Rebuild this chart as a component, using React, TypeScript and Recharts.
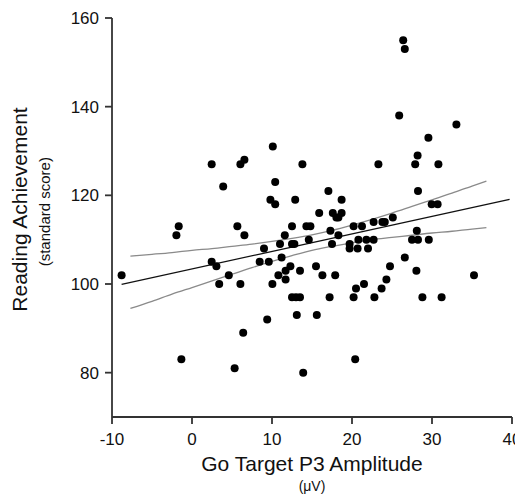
import React from 'react';
import { ComposedChart, Scatter, Line, XAxis, YAxis } from 'recharts';

// Go Target P3 amplitude (µV) for each participant
const amplitude = [
  -8.8, -1.95, -1.66, -1.33, 2.46, 2.46, 3.05, 3.4, 3.9, 4.6,
  5.33, 5.67, 6.05, 6.05, 6.55, 6.55, 6.4, 8.46, 9.0, 9.4,
  9.6, 9.8, 10.05, 10.1, 10.4, 10.4, 10.8, 11.0, 11.2, 11.6,
  11.7, 11.7, 12.3, 12.5, 12.5, 12.5, 12.8, 13.0, 12.9, 13.1,
  13.5, 13.5, 13.8, 13.9, 14.3, 14.6, 14.8, 15.5, 15.6, 15.9,
  16.3, 17.05, 17.2, 17.3, 17.5, 17.6, 17.9, 18.05, 18.3, 18.3,
  18.7, 18.7, 19.7, 19.7, 20.2, 20.2, 20.5, 20.4, 20.7, 20.8,
  21.25, 21.5, 21.8, 22.0, 22.7, 22.7, 22.8, 23.3, 23.8, 23.7,
  24.1, 24.3, 24.75, 25.1, 25.9, 26.4, 26.6, 26.6, 27.5, 27.9,
  28.05, 28.1, 28.2, 28.25, 28.25, 28.8, 29.55, 29.6, 29.96, 30.7,
  30.8, 31.2, 33.05, 35.25,
];

// Reading achievement (standard score) for each participant
const reading = [
  102, 111, 113, 83, 127, 105, 104, 100, 122, 102,
  81, 113, 127, 100, 128, 111, 89, 105, 108, 92,
  105, 119, 100, 131, 118, 123, 102, 109, 106, 111,
  101, 103, 104, 113, 109, 97, 109, 97, 119, 93,
  97, 103, 127, 80, 113, 110, 113, 104, 93, 116,
  102, 121, 97, 112, 109, 116, 102, 115, 115, 111,
  119, 116, 109, 108, 113, 97, 99, 83, 108, 110,
  113, 100, 110, 108, 110, 114, 97, 127, 114, 99,
  114, 101, 104, 115, 138, 155, 153, 106, 110, 127,
  103, 112, 129, 121, 110, 97, 133, 110, 118, 118,
  127, 97, 136, 102,
];

const xTicks = [-10, 0, 10, 20, 30, 40];
const yTicks = [80, 100, 120, 140, 160];

// regression line end points
const fitX = [-8.8, 39.7];
const fitY = [99.9, 119.1];

// confidence band
const bandX = [-7.7, -5, -2.5, 0, 2.5, 5, 7.5, 10, 12.5, 15, 17.5, 20, 22.5, 25, 27.5, 30, 32.5, 35, 36.8];
const bandUpper = [106.3, 106.7, 107.1, 107.6, 108.0, 108.5, 109.0, 109.6, 110.3, 111.1, 112.1, 113.3, 114.6, 116.0, 117.5, 119.0, 120.5, 122.1, 123.2];
const bandLower = [94.5, 96.1, 97.7, 99.2, 100.7, 102.2, 103.7, 105.1, 106.4, 107.6, 108.5, 109.3, 110.0, 110.5, 111.0, 111.5, 111.9, 112.4, 112.7];

const points = amplitude.map((x, i) => ({ x, y: reading[i] }));
const fit = fitX.map((x, i) => ({ x, y: fitY[i] }));
const upper = bandX.map((x, i) => ({ x, y: bandUpper[i] }));
const lower = bandX.map((x, i) => ({ x, y: bandLower[i] }));

const FONT = '"Liberation Sans", Arial, Helvetica, sans-serif';
const axisStyle = { stroke: '#333', strokeWidth: 1.8 };

const Dot = (props: any) => <circle cx={props.cx} cy={props.cy} r={4} fill="#000" />;

export default function App() {
  return (
    <div style={{ position: 'relative', width: 515, height: 488 }}>
      <style>{'html,body{overflow:hidden} .recharts-wrapper,.recharts-surface{overflow:visible !important}'}</style>
      <ComposedChart width={515} height={488} margin={{ top: 10, right: 11, bottom: 0, left: 0 }}>
        <XAxis
          type="number"
          dataKey="x"
          domain={[-10, 40]}
          ticks={xTicks}
          height={79}
          tickSize={7}
          tickMargin={9}
          axisLine={axisStyle}
          tickLine={axisStyle}
          tick={{ fill: '#111', fontSize: 17, fontFamily: FONT }}
          allowDataOverflow
        />
        <YAxis
          type="number"
          dataKey="y"
          domain={[70, 160]}
          ticks={yTicks}
          width={104}
          tickSize={7}
          tickMargin={6}
          axisLine={axisStyle}
          tickLine={axisStyle}
          tick={{ fill: '#111', fontSize: 17, fontFamily: FONT }}
          allowDataOverflow
        />
        <Line data={upper} dataKey="y" type="monotone" stroke="#8a8a8a" strokeWidth={1.3} dot={false} isAnimationActive={false} />
        <Line data={lower} dataKey="y" type="monotone" stroke="#8a8a8a" strokeWidth={1.3} dot={false} isAnimationActive={false} />
        <Line data={fit} dataKey="y" type="linear" stroke="#111" strokeWidth={1.3} dot={false} isAnimationActive={false} />
        <Scatter data={points} dataKey="y" shape={Dot} isAnimationActive={false} />
      </ComposedChart>
      <svg width={515} height={488} style={{ position: 'absolute', left: 0, top: 0, pointerEvents: 'none' }}>
        <text x={18.5} y={201.5} transform="rotate(-90 18.5 201.5)" textAnchor="middle" fontSize={21} fontFamily={FONT} fill="#111">
          Reading Achievement
        </text>
        <text x={42.3} y={203.7} transform="rotate(-90 42.3 203.7)" textAnchor="middle" fontSize={15} fontFamily={FONT} fill="#111">
          (standard score)
        </text>
        <text x={304} y={463} textAnchor="middle" fontSize={21} fontFamily={FONT} fill="#111">
          Go Target P3 Amplitude
        </text>
        <text x={304} y={483.2} textAnchor="middle" fontSize={14} fontFamily={FONT} fill="#111">
          (μV)
        </text>
      </svg>
    </div>
  );
}
